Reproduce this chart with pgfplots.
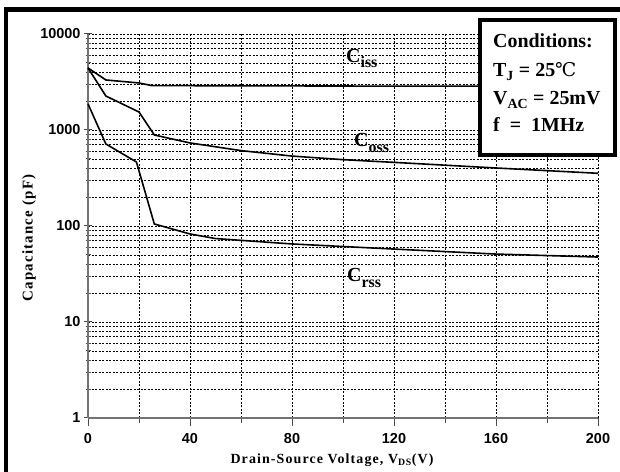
\documentclass[border=0pt]{standalone}
\usepackage{fontspec}
\setmainfont{Liberation Serif}
\setsansfont{Liberation Sans}
\newfontfamily\symfont{DejaVu Serif}
\usepackage{pgfplots}
\pgfplotsset{compat=1.18}

\begin{document}
\begin{tikzpicture}
\useasboundingbox (0,0) rectangle (620bp,472bp);
\begin{axis}[
 at={(88bp,54bp)}, anchor=south west,
 scale only axis, width=510bp, height=384bp,
 xmin=0, xmax=200, ymin=1, ymax=10000, ymode=log,
 axis x line=bottom, axis y line=left,
 axis line style={-, draw=black!55, line width=1.3bp},
 xtick={0,40,...,200}, minor xtick={20,60,100,140,180},
 ytick={1,10,100,1000,10000}, yticklabels={1,10,100,1000,10000},
 minor ytick={2,3,...,9,20,30,...,90,200,300,...,900,2000,3000,...,9000},
 grid=both,
 major grid style={black, line width=0.75bp, dash pattern=on 2bp off 1.5bp},
 minor grid style={black, line width=0.75bp, dash pattern=on 2bp off 1.5bp},
 tick style={black!70, line width=1bp},
 major tick length=8bp, minor tick length=5bp,
 xtick align=outside, ytick align=center,
 ticklabel style={font=\sffamily\bfseries\fontsize{14.5}{14.5}\selectfont},
 xticklabel style={yshift=-4bp},
 /pgf/number format/assume math mode=true,
 clip=false,
]
\addplot[black, line width=1.6bp] coordinates {
 (0,4430) (7,3320) (20,3090) (25,2900) (50,2890) (75,2880) (100,2870) (150,2860) (200,2850)};
\addplot[black, line width=1.6bp] coordinates {
 (0,4430) (7,2260) (20,1540) (26,887) (40,733) (60,610) (80,535) (100,491) (120,460) (160,402) (200,354)};
\addplot[black, line width=1.6bp] coordinates {
 (0,1870) (7,715) (19,464) (26,105) (40,82.6) (50,74) (80,65) (120,57.5) (160,51) (200,47.5)};
\end{axis}
% frame
\draw[line width=4.5bp] (6bp,-10bp) -- (6bp,462.5bp) -- (630bp,462.5bp);
% axis labels
\node[rotate=90, font=\bfseries\fontsize{15}{15}\selectfont\addfontfeature{LetterSpace=8}] at (29bp,234bp) {Capacitance (pF)};
\node[anchor=base, font=\bfseries\fontsize{14}{14}\selectfont\addfontfeature{LetterSpace=8}] at (332bp,9bp) {Drain-Source Voltage, V\textsubscript{DS}(V)};
% curve labels
\node[anchor=base west, inner sep=0pt, font=\bfseries\fontsize{20}{20}\selectfont] at (346bp,409bp) {C\raisebox{-5bp}{\fontsize{16}{16}\selectfont iss}};
\node[anchor=base west, inner sep=0pt, font=\bfseries\fontsize{20}{20}\selectfont] at (354bp,325bp) {C\raisebox{-6bp}{\fontsize{16}{16}\selectfont oss}};
\node[anchor=base west, inner sep=0pt, font=\bfseries\fontsize{20}{20}\selectfont] at (347bp,190bp) {C\raisebox{-6bp}{\fontsize{16}{16}\selectfont rss}};
% conditions box
\draw[line width=4bp, fill=white] (480bp,452bp) rectangle (615bp,317bp);
\node[anchor=base west, inner sep=0pt, font=\bfseries\fontsize{20}{20}\selectfont] at (493bp,424bp) {Conditions:};
\node[anchor=base west, inner sep=0pt, font=\bfseries\fontsize{20}{20}\selectfont] at (493bp,395bp) {T\textsubscript{J} = 25{\symfont\mdseries\fontsize{19}{19}\selectfont ℃}};
\node[anchor=base west, inner sep=0pt, font=\bfseries\fontsize{20}{20}\selectfont] at (493bp,367bp) {V\textsubscript{AC} = 25mV};
\node[anchor=base west, inner sep=0pt, font=\bfseries\fontsize{20}{20}\selectfont] at (493bp,340bp) {f\ \ =\ \ 1MHz};
\end{tikzpicture}
\end{document}
